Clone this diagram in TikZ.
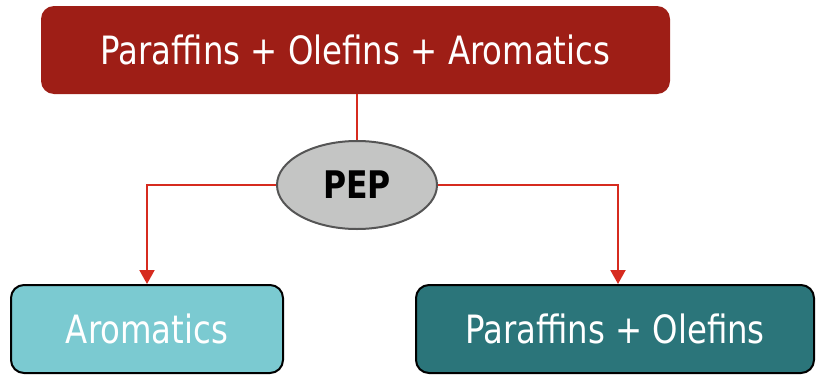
\documentclass[tikz,border=0pt]{standalone}
\usepackage{fontspec}
\usetikzlibrary{shapes.geometric,arrows.meta}
\newfontfamily\tf[FakeStretch=0.83]{DejaVu Sans}
\definecolor{topred}{HTML}{9E1E16}
\definecolor{linered}{HTML}{D62B1F}
\definecolor{pepgray}{HTML}{C4C5C4}
\definecolor{pepedge}{HTML}{555555}
\definecolor{lightteal}{HTML}{7BCAD1}
\definecolor{darkteal}{HTML}{2B757A}
\tikzset{
  box/.style={rectangle, rounded corners=13pt, minimum height=88pt, inner sep=0pt, text=white,
    font=\tf\fontsize{39}{46}\selectfont},
  lowbox/.style={box, draw=black, line width=2pt},
  connector/.style={draw=linered, line width=2pt},
  arrowline/.style={connector, -{Triangle[width=15pt,length=14pt]}}
}
\begin{document}
\begin{tikzpicture}[x=1pt,y=-1pt]
\useasboundingbox (0,0) rectangle (816,375);
\node[box, fill=topred, minimum width=629pt] (top) at (355.5,50) {Paraffins + Olefins + Aromatics};
\node[ellipse, draw=pepedge, fill=pepgray, line width=2pt, minimum width=160pt, minimum height=88pt, inner sep=0pt,
  font=\tf\bfseries\fontsize{38}{44}\selectfont] (pep) at (357,185) {PEP};
\node[lowbox, fill=lightteal, minimum width=272pt] (lb) at (147,329) {Aromatics};
\node[lowbox, fill=darkteal, minimum width=398pt] (rb) at (615,329) {Paraffins + Olefins};
\draw[connector] (pep.north) -- (pep.north |- top.south);
\draw[arrowline] (pep.west) -| (lb.north);
\draw[arrowline] (pep.east) -| ([xshift=3pt]rb.north);
\end{tikzpicture}
\end{document}
